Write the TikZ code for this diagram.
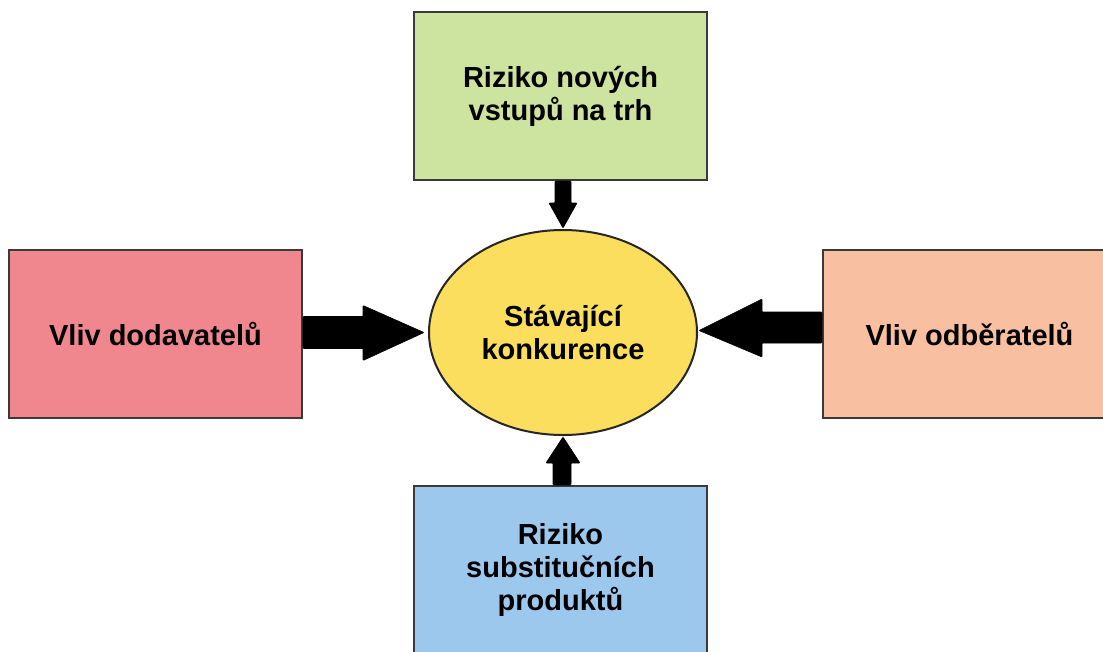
\documentclass[tikz,border=0pt]{standalone}
\usepackage{fontspec}
\setmainfont{Liberation Sans}
\usetikzlibrary{calc,shapes.geometric}
\definecolor{cgreen}{HTML}{CDE4A0}
\definecolor{cred}{HTML}{F0878F}
\definecolor{corange}{HTML}{F8C0A0}
\definecolor{cblue}{HTML}{9DC8EE}
\definecolor{cyellow}{HTML}{FCDE5E}
\definecolor{cborder}{HTML}{3A3A3A}
\tikzset{
  box/.style={draw=cborder, line width=2pt, minimum width=293pt, minimum height=168pt,
    inner sep=0pt, align=center, font=\fontsize{29}{33}\selectfont\bfseries},
  oval/.style={ellipse, draw=black!85, line width=2pt, fill=cyellow, minimum width=268pt,
    minimum height=205pt, inner sep=0pt, align=center, font=\fontsize{29}{33}\selectfont\bfseries},
  blk/.style={fill=black, draw=black, line width=0.6pt, line join=round, rounded corners=0.8pt}
}
\begin{document}
\begin{tikzpicture}[x=1pt,y=-1pt]
\clip (0,0) rectangle (1103,651);
\fill[white] (0,0) rectangle (1103,651);
\node[box, fill=cgreen] (T) at (560.5,96) {Riziko nových\\vstupů na trh};
\node[box, fill=cred] (L) at (155.5,333.5) {Vliv dodavatelů};
\node[box, fill=corange] (R) at (969.5,333.5) {Vliv odběratelů};
\node[box, fill=cblue] (B) at (560.5,570) {Riziko\\substitučních\\produktů};
\node[oval] (E) at (563,332.5) {Stávající\\konkurence};
% left arrow
\fill[blk] ($(L.east)+(0,-17)$) -- ($(L.east)+(60,-17)$) -- ($(L.east)+(60,-28)$)
  -- ($(E.west)+(-4,0)$) -- ($(L.east)+(60,27)$) -- ($(L.east)+(60,15)$)
  -- ($(L.east)+(0,15)$) -- cycle;
% right arrow
\fill[blk] ($(R.west)+(0,-21.5)$) -- ($(R.west)+(-60,-21.5)$) -- ($(R.west)+(-60,-34.5)$)
  -- ($(E.east)+(1,-2)$) -- ($(R.west)+(-60,23.5)$) -- ($(R.west)+(-60,9.5)$)
  -- ($(R.west)+(0,9.5)$) -- cycle;
% top arrow
\coordinate (ts) at (T.south -| E.north);
\fill[blk] ($(ts)+(-8,0)$) -- ($(ts)+(-8,22)$) -- ($(ts)+(-14,22)$) -- ($(E.north)+(0,-1)$)
  -- ($(ts)+(14,22)$) -- ($(ts)+(8,22)$) -- ($(ts)+(8,0)$) -- cycle;
% bottom arrow
\coordinate (bn) at (B.north -| E.south);
\fill[blk] ($(bn)+(-10,0)$) -- ($(bn)+(-10,-22)$) -- ($(bn)+(-17,-22)$) -- ($(E.south)+(0,1)$)
  -- ($(bn)+(17,-22)$) -- ($(bn)+(8,-22)$) -- ($(bn)+(8,0)$) -- cycle;
\end{tikzpicture}
\end{document}
